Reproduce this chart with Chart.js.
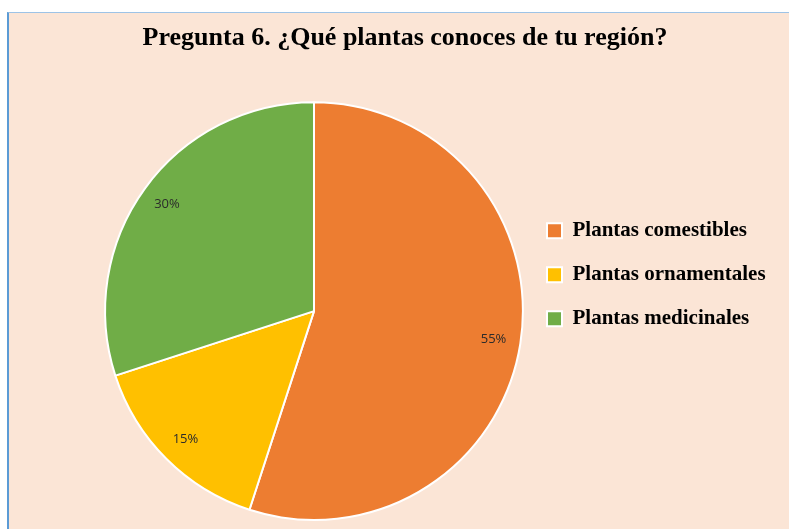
<!DOCTYPE html>
<html>
<head>
<meta charset="utf-8">
<script src="https://cdn.jsdelivr.net/npm/chart.js@4"></script>
<style>
  html, body { margin: 0; padding: 0; background: #fff; }
  #marco {
    position: absolute; left: 7px; top: 12px; width: 782px; height: 517px;
    background: #FBE5D6; border-top: 1px solid #9DC3E6; border-left: 2px solid #5B9BD5;
    box-sizing: border-box;
  }
  #wrap { position: absolute; left: 0; top: 0; width: 789px; height: 529px; }
</style>
</head>
<body>
<div id="marco"></div>
<div id="wrap"><canvas id="grafico" width="789" height="529"></canvas></div>
<script>
// Datos
const categorias = ['Plantas comestibles', 'Plantas ornamentales', 'Plantas medicinales'];
const porcentajes = [55, 15, 30];
const colores = ['#ED7D31', '#FFC000', '#70AD47'];
const titulo = 'Pregunta 6. ¿Qué plantas conoces de tu región?';

// Etiquetas de porcentaje dentro de cada porción
const etiquetas = {
  id: 'etiquetas',
  afterDatasetsDraw(chart) {
    const ctx = chart.ctx;
    const meta = chart.getDatasetMeta(0);
    ctx.save();
    ctx.font = '13px "Open Sans"';
    ctx.fillStyle = '#2b2b2b';
    ctx.textAlign = 'center';
    ctx.textBaseline = 'middle';
    meta.data.forEach((arc, i) => {
      const p = arc.getProps(['x', 'y', 'startAngle', 'endAngle', 'outerRadius']);
      const a = (p.startAngle + p.endAngle) / 2;
      const r = p.outerRadius * 0.87;
      ctx.fillText(porcentajes[i] + '%', p.x + Math.cos(a) * r, p.y + Math.sin(a) * r);
    });
    ctx.restore();
  }
};

// La leyenda es más angosta que su texto: no recortar
const sinRecorte = {
  id: 'sinRecorte',
  beforeDraw(chart) {
    if (chart.legend) chart.legend.right = chart.width;
  }
};

new Chart(document.getElementById('grafico'), {
  type: 'pie',
  data: {
    labels: categorias,
    datasets: [{
      data: porcentajes,
      backgroundColor: colores,
      borderColor: '#ffffff',
      borderWidth: 2,
      hoverOffset: 0
    }]
  },
  options: {
    responsive: false,
    animation: false,
    layout: { padding: { left: 104, right: 83, bottom: 8, top: 0 } },
    plugins: {
      title: {
        display: true,
        text: titulo,
        color: '#000',
        font: { family: '"Liberation Serif"', size: 26, weight: 'bold' },
        padding: { top: 23, bottom: 47 }
      },
      legend: {
        position: 'right',
        align: 'start',
        fullSize: false,
        maxWidth: 182,
        title: { display: true, text: ' ', font: { size: 10 }, padding: { top: 84, bottom: 0 } },
        labels: {
          color: '#000',
          font: { family: '"Liberation Serif"', size: 21, weight: 'bold' },
          boxWidth: 15,
          boxHeight: 15,
          padding: 23
        }
      },
      tooltip: { enabled: false }
    }
  },
  plugins: [etiquetas, sinRecorte]
});
</script>
</body>
</html>
